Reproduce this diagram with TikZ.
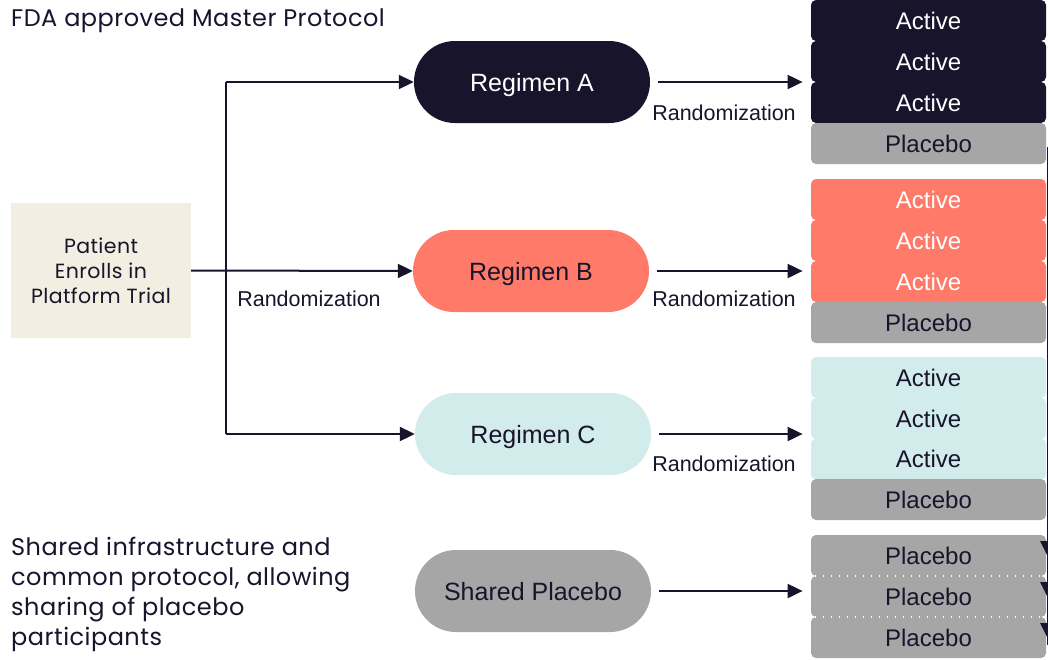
\documentclass[tikz,border=0pt]{standalone}
\usepackage{fontspec}
\setmainfont{Liberation Sans}
\newfontfamily\pop[LetterSpace=2]{Poppins}
\usetikzlibrary{arrows.meta,fit,shapes.misc}
\definecolor{navy}{HTML}{17142C}
\definecolor{coral}{HTML}{FF7A68}
\definecolor{cyanl}{HTML}{D1ECEA}
\definecolor{grayb}{HTML}{A6A6A6}
\definecolor{beige}{HTML}{F2EEE1}
\tikzset{
  pill/.style={shape=rounded rectangle, minimum width=236pt, minimum height=82pt, inner sep=0pt, text depth=0pt, font=\fontsize{25}{29}\selectfont},
  rowbox/.style={rectangle, rounded corners=5pt, minimum width=235pt, minimum height=41pt, inner sep=0pt, text depth=0pt, font=\fontsize{24}{28}\selectfont},
  act/.style={rowbox, fill=#1},
  plc/.style={rowbox, fill=grayb, text=navy},
  lab/.style={font=\fontsize{21.5}{25}\selectfont, text=navy, inner sep=0pt},
  conn/.style={draw=navy, line width=2pt, -{Triangle[length=15pt,width=14pt]}},
  wire/.style={draw=navy, line width=2pt},
  dots/.style={white, line width=1.6pt, dash pattern=on 1.6pt off 6.4pt},
  popt/.style={font=\pop\fontsize{24}{30}\selectfont, text=navy, inner sep=0pt, align=left}
}
\begin{document}
\begin{tikzpicture}[x=1pt,y=-1pt]
\useasboundingbox[fill=white] (0,0) rectangle (1048,659);

% titles
\node[popt, anchor=west] (title) at (11,21) {FDA approved Master Protocol};
\node[popt, anchor=north west] (shared) at (11,537) {Shared infrastructure and\\common protocol, allowing\\sharing of placebo\\participants};

% patient
\node[rectangle, fill=beige, minimum width=180pt, minimum height=135pt, inner sep=0pt,
      font=\pop\fontsize{20.5}{25}\selectfont, text=navy, align=center] (patient) at (101,270.5)
      {Patient\\Enrolls in\\Platform Trial};

% pills
\node[pill, fill=navy, text=white] (pA) at (532,82) {Regimen A};
\node[pill, fill=coral, text=navy] (pB) at (531,271) {Regimen B};
\node[pill, fill=cyanl, text=navy] (pC) at (533,434) {Regimen C};
\node[pill, fill=grayb, text=navy] (pD) at (533,591) {Shared Placebo};

% stacks
\node[act=navy, text=white] (a1) at (928.5,20.5) {Active};
\node[act=navy, text=white] (a2) at (928.5,61.5) {Active};
\node[act=navy, text=white] (a3) at (928.5,102.5) {Active};
\node[plc] (a4) at (928.5,143.5) {Placebo};

\node[act=coral, text=white] (b1) at (928.5,199.5) {Active};
\node[act=coral, text=white] (b2) at (928.5,240.5) {Active};
\node[act=coral, text=white] (b3) at (928.5,281.5) {Active};
\node[plc] (b4) at (928.5,322.5) {Placebo};

\node[act=cyanl, text=navy] (c1) at (928.5,377.5) {Active};
\node[act=cyanl, text=navy] (c2) at (928.5,418.5) {Active};
\node[act=cyanl, text=navy] (c3) at (928.5,459) {Active};
\node[plc] (c4) at (928.5,499.5) {Placebo};

\node[plc] (d1) at (928.5,555.5) {Placebo};
\node[plc] (d2) at (928.5,596.5) {Placebo};
\node[plc] (d3) at (928.5,637.5) {Placebo};
\draw[dots] ([xshift=4pt]d1.south west) -- ([xshift=-6pt]d1.south east);
\draw[dots] ([xshift=4pt]d2.south west) -- ([xshift=-6pt]d2.south east);

\node[fit=(a1)(a4), inner sep=0pt] (sA) {};
\node[fit=(b1)(b4), inner sep=0pt] (sB) {};
\node[fit=(c1)(c4), inner sep=0pt] (sC) {};
\node[fit=(d1)(d3), inner sep=0pt] (sD) {};

% right-edge artifacts
\draw[navy, line width=1pt] (1047.5,147) -- (1047.5,645);
\fill[navy] (1040,541) -- (1048,541) -- (1048,557) -- cycle;
\fill[navy] (1040,582) -- (1048,582) -- (1048,598) -- cycle;
\fill[navy] (1040,623) -- (1048,623) -- (1048,639) -- cycle;

% left connectors
\coordinate (jA) at (226,82);
\coordinate (jC) at (226,434);
\draw[wire] (jA) -- (jC);
\draw[conn] (jA) -- (pA.west);
\draw[conn] (patient.east) -- (pB.west);
\draw[conn] (jC) -- (pC.west);
\node[lab] (rL) at (309,299) {Randomization};

% right connectors
\draw[conn, shorten <=8pt, shorten >=8pt] (pA.east) -- (pA.east -| sA.west);
\draw[conn, shorten <=8pt, shorten >=8pt] (pB.east) -- (pB.east -| sB.west);
\draw[conn, shorten <=8pt, shorten >=8pt] (pC.east) -- (pC.east -| sC.west);
\draw[conn, shorten <=8pt, shorten >=8pt] (pD.east) -- (pD.east -| sD.west);
\node[lab] (rA) at (724,113) {Randomization};
\node[lab] (rB) at (724,299) {Randomization};
\node[lab] (rC) at (724,464) {Randomization};
\end{tikzpicture}
\end{document}
